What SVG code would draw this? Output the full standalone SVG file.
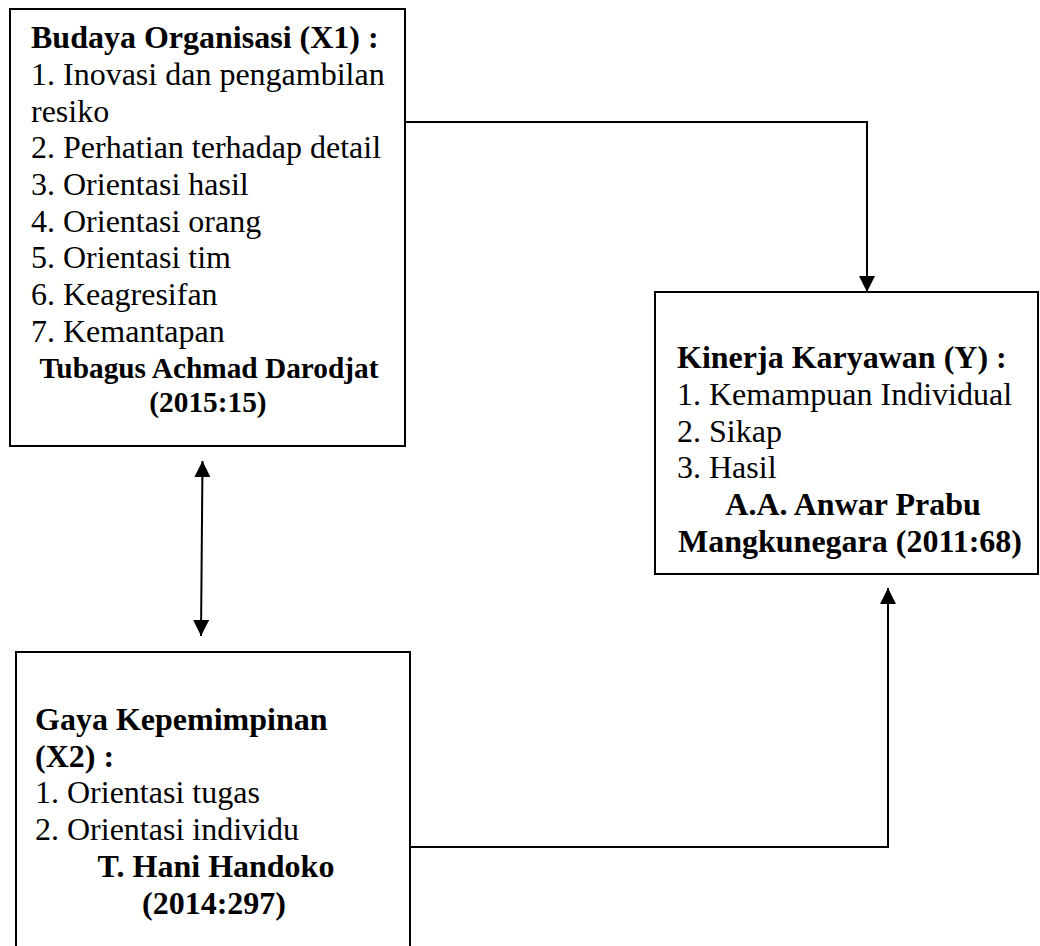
<svg xmlns="http://www.w3.org/2000/svg" width="1040" height="946" viewBox="0 0 1040 946">
<style>
.box{fill:#fff;stroke:#000;stroke-width:2}
.t{font-family:"Liberation Serif","Times New Roman",serif;font-size:32px;fill:#000}
.s{font-size:29.33px}
.b{font-weight:bold}
.c{text-anchor:middle}
.ln{fill:none;stroke:#000;stroke-width:2}
</style>
<defs>
<marker id="ah" markerUnits="userSpaceOnUse" markerWidth="16" markerHeight="16" refX="16" refY="8" orient="auto-start-reverse" viewBox="0 0 16 16">
<path d="M0,0 L16,8 L0,16 z" fill="#000"/>
</marker>
</defs>
<rect width="1040" height="946" fill="#fff"/>
<g id="connectors">
<polyline class="ln" points="405,122 867,122 867,292" marker-end="url(#ah)"/>
<polyline class="ln" points="410,847 888,847 888,588" marker-end="url(#ah)"/>
<line class="ln" x1="202.5" y1="461" x2="201" y2="636" marker-start="url(#ah)" marker-end="url(#ah)"/>
</g>
<g id="node-x1">
<rect class="box" x="10" y="9" width="395" height="437"/>
<text class="t b" x="31" y="48">Budaya Organisasi (X1) :</text>
<text class="t" x="31" y="85">1. Inovasi dan pengambilan</text>
<text class="t" x="31" y="122">resiko</text>
<text class="t" x="31" y="158">2. Perhatian terhadap detail</text>
<text class="t" x="31" y="195">3. Orientasi hasil</text>
<text class="t" x="31" y="232">4. Orientasi orang</text>
<text class="t" x="31" y="268">5. Orientasi tim</text>
<text class="t" x="31" y="305">6. Keagresifan</text>
<text class="t" x="31" y="342">7. Kemantapan</text>
<text class="t s b c" x="209" y="378">Tubagus Achmad Darodjat</text>
<text class="t s b c" x="208" y="411.5">(2015:15)</text>
</g>
<g id="node-y">
<rect class="box" x="655" y="292" width="383" height="282"/>
<text class="t b" x="677" y="368">Kinerja Karyawan (Y) :</text>
<text class="t" x="677" y="405">1. Kemampuan Individual</text>
<text class="t" x="677" y="442">2. Sikap</text>
<text class="t" x="677" y="478">3. Hasil</text>
<text class="t b c" x="853" y="515">A.A. Anwar Prabu</text>
<text class="t b c" x="850" y="552">Mangkunegara (2011:68)</text>
</g>
<g id="node-x2">
<rect class="box" x="16" y="652" width="394" height="310"/>
<text class="t b" x="35" y="730">Gaya Kepemimpinan</text>
<text class="t b" x="35" y="767">(X2) :</text>
<text class="t" x="35" y="803">1. Orientasi tugas</text>
<text class="t" x="35" y="840">2. Orientasi individu</text>
<text class="t b c" x="216" y="877">T. Hani Handoko</text>
<text class="t b c" x="214" y="914">(2014:297)</text>
</g>
</svg>
